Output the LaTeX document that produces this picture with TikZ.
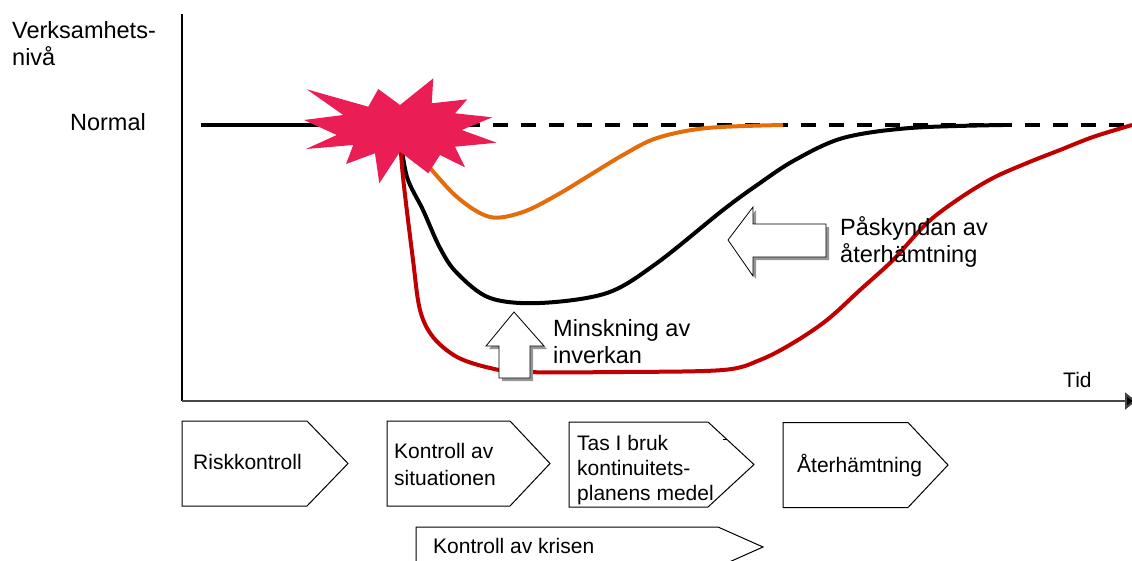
\documentclass[tikz,border=0pt]{standalone}
\usepackage{fontspec}
\setmainfont{Liberation Sans}
\usetikzlibrary{arrows.meta}
\definecolor{curveorange}{RGB}{228,108,10}
\definecolor{curvered}{RGB}{192,0,0}
\definecolor{starpink}{RGB}{234,30,85}
\definecolor{shadowgray}{RGB}{150,150,150}
\definecolor{axisgray}{RGB}{70,70,70}
\begin{document}
\begin{tikzpicture}[x=1pt,y=-1pt,
  lbl/.style={inner sep=0pt, font=\fontsize{23.5}{27}\selectfont, align=left, anchor=base west},
  boxtxt/.style={inner sep=0pt, font=\fontsize{21}{25}\selectfont, align=left, anchor=base west},
  phasebox/.style={draw=black, line width=1pt, fill=white, line join=miter},
  curvestyle/.style={line width=4pt},
  blockarrow/.style={draw=black, line width=0.8pt, fill=white, line join=miter},
  blockshadow/.style={fill=shadowgray, draw=none},
]
\useasboundingbox (0,0) rectangle (1132,560);
\clip (0,0) rectangle (1132,560);

% axes
\coordinate (origin) at (182,401);
\coordinate (ytop) at (182,14);
\coordinate (xend) at (1136,401);
\draw[line width=1.2pt] (origin) -- (ytop);
\draw[line width=2pt, color=axisgray, -{Triangle[length=11pt,width=17pt,fill=black]}] (origin) -- (xend);

% axis labels (base = last line)
\node[lbl] (ylabel) at (12,65) {Verksamhets-\\nivå};
\node[lbl, anchor=base east] (normal) at (146,130) {Normal};
\node[boxtxt] (tid) at (1063,387) {Tid};

% normal level
\coordinate (n0) at (201,125);
\coordinate (n1) at (400,125);
\coordinate (n2) at (1132,125);
\draw[line width=4pt] (n0) -- (n1);
\draw[line width=4pt, dash pattern=on 15pt off 13pt, dash phase=18.7pt] (n1) -- (n2);

% orange curve
\draw[curvestyle, color=curveorange] plot[smooth, tension=0.55] coordinates {
 (400,135) (423,160) (457,197) (490,217) (523,212) (557,195) (590,175) (623,155) (657,138) (707,128) (783,125)};

% black curve
\draw[curvestyle, color=black] plot[smooth, tension=0.55] coordinates {
 (400,135) (407,177) (423,210) (440,248) (457,273) (490,298) (540,303) (607,293) (657,263) (723,210) (760,183) (795,160) (843,138) (910,128) (1003,125)};

% red curve
\draw[curvestyle, color=curvered] plot[smooth, tension=0.55] coordinates {
 (400,135) (403,177) (413,260) (420,310) (433,337) (457,357) (490,368) (523,372) (623,372) (723,370) (760,360) (793,343) (827,320) (860,290) (893,260) (927,223) (960,198) (993,178) (1027,163) (1060,150) (1093,137) (1132,125)};

% explosion star
\fill[starpink] (306.7,89.3) -- (368.3,106.7) -- (378.3,89) -- (400,105) -- (433.3,78.3) -- (431.7,103.3)
 -- (467.3,99.3) -- (455,113.3) -- (492.3,117.3) -- (461.7,130) -- (496.7,142.7) -- (455,146.7)
 -- (465,167.3) -- (440,155) -- (428.3,173.3) -- (400,151.7) -- (379.3,183.3) -- (375,153.3)
 -- (346,164) -- (353.3,145) -- (306,149) -- (336.7,135) -- (304,120) -- (343.3,115) -- cycle;

% block arrow left (Påskyndan)
\begin{scope}[shift={(3,3)}]
\fill[blockshadow] (728,240) -- (753,207) -- (753,224) -- (826,224) -- (826,257) -- (753,257) -- (753,276) -- cycle;
\end{scope}
\draw[blockarrow] (728,240) -- (753,207) -- (753,224) -- (826,224) -- (826,257) -- (753,257) -- (753,276) -- cycle;
\node[lbl] (pask) at (840,262) {Påskyndan av\\återhämtning};

% block arrow up (Minskning)
\begin{scope}[shift={(3,3)}]
\fill[blockshadow] (514,312) -- (544,346) -- (530,346) -- (530,378) -- (499,378) -- (499,346) -- (486,346) -- cycle;
\end{scope}
\draw[blockarrow] (514,312) -- (544,346) -- (530,346) -- (530,378) -- (499,378) -- (499,346) -- (486,346) -- cycle;
\node[lbl] (mins) at (553,363) {Minskning av\\inverkan};

% phase boxes
\draw[phasebox] (182,421) -- (307,421) -- (348,463.5) -- (307,506) -- (182,506) -- cycle;
\node[boxtxt] (risk) at (193,469.5) {Riskkontroll};

\draw[phasebox] (387,421) -- (510,421) -- (550,463.5) -- (510,506) -- (387,506) -- cycle;
\node[boxtxt, font=\fontsize{21}{26.5}\selectfont] (kontsit) at (394,485) {Kontroll av\\situationen};

\draw[phasebox] (569,422) -- (708,422) -- (754,464.5) -- (708,507) -- (569,507) -- cycle;
\node[boxtxt] (tas) at (577,500) {Tas I bruk\\kontinuitets-\\planens medel};
\coordinate (d0) at (722.5,439.5);
\coordinate (d1) at (726.5,439.5);
\draw[line width=0.8pt] (d0) -- (d1);

\draw[phasebox] (783,422.5) -- (908,422.5) -- (948,465) -- (908,507.5) -- (783,507.5) -- cycle;
\node[boxtxt] (ater) at (797,472) {Återhämtning};

\draw[phasebox] (416,527) -- (718,527) -- (763,547) -- (718,567) -- (416,567) -- cycle;
\node[boxtxt] (krisen) at (433,553) {Kontroll av krisen};
\end{tikzpicture}
\end{document}
